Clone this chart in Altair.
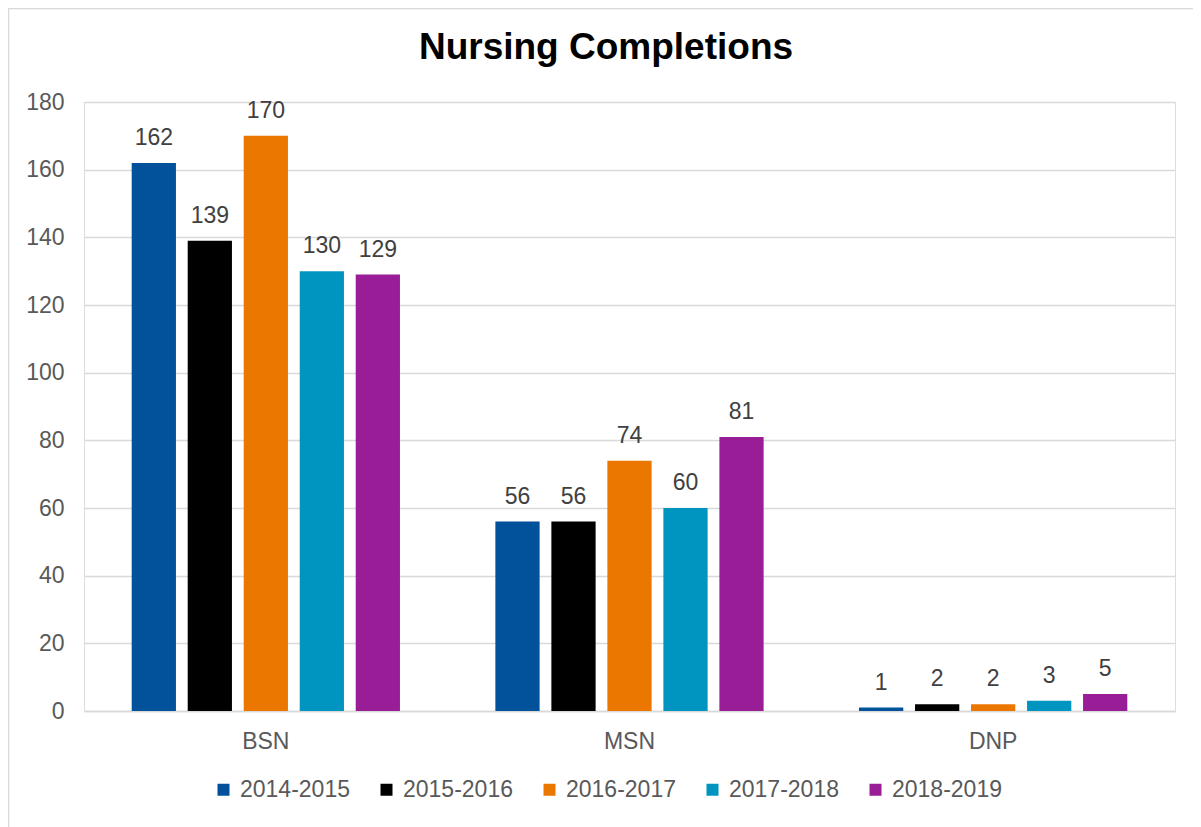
import altair as alt
import pandas as pd

programs = ["BSN", "MSN", "DNP"]
years = ["2014-2015", "2015-2016", "2016-2017", "2017-2018", "2018-2019"]
bsn = [162, 139, 170, 130, 129]
msn = [56, 56, 74, 60, 81]
dnp = [1, 2, 2, 3, 5]
colors = ["#01529a", "#000000", "#ec7700", "#0095c0", "#981d97"]
title_text = "Nursing Completions"

rows = []
for p, vals in zip(programs, [bsn, msn, dnp]):
    for yr, v in zip(years, vals):
        rows.append({"program": p, "year": yr, "value": v})
df = pd.DataFrame(rows)

FONT = "Liberation Sans"
W, H = 1091, 609

x_enc = alt.X(
    "program:N", sort=programs,
    scale=alt.Scale(paddingInner=0.23, paddingOuter=0.115),
    axis=alt.Axis(title=None, labelAngle=0, ticks=False, domainColor="#d9d9d9",
                  domainWidth=1.5, labelFontSize=23, labelColor="#595959",
                  labelPadding=19, labelFont=FONT, grid=False),
)
xo_enc = alt.XOffset("year:N", sort=years,
                     scale=alt.Scale(paddingInner=0.21, paddingOuter=0.105))
y_enc = alt.Y(
    "value:Q", scale=alt.Scale(domain=[0, 180], nice=False),
    axis=alt.Axis(title=None, values=list(range(0, 181, 20)), domain=False,
                  ticks=False, gridColor="#d9d9d9", gridWidth=1.5,
                  labelFontSize=23, labelColor="#595959", labelPadding=20,
                  labelFont=FONT),
)

base = alt.Chart(df).encode(x=x_enc, xOffset=xo_enc, y=y_enc)

bars = base.mark_bar().encode(
    color=alt.Color(
        "year:N", sort=years,
        scale=alt.Scale(domain=years, range=colors),
        legend=alt.Legend(
            title=None, orient="none", direction="horizontal",
            legendX=128, legendY=676, symbolType="square", symbolSize=144,
            symbolStrokeWidth=0, labelFontSize=23, labelColor="#595959",
            labelFont=FONT, labelOffset=5, columnPadding=25,
        ),
    )
)

labels = base.mark_text(
    baseline="alphabetic", dy=-18, fontSize=23, color="#404040", font=FONT
).encode(text="value:Q")

title_df = pd.DataFrame({"t": [title_text]})
title = alt.Chart(title_df).mark_text(
    font=FONT, fontSize=37, fontWeight="bold", color="#000000",
    baseline="middle", align="center"
).encode(text="t:N", x=alt.value(522), y=alt.value(-54))

border = alt.Chart(title_df).mark_rect(
    fill=None, stroke="#d9d9d9", strokeWidth=1.5
).encode(x=alt.value(-75.5), x2=alt.value(1300), y=alt.value(-93.5), y2=alt.value(900))

chart = alt.layer(border, bars, labels, title).properties(
    width=W, height=H,
    autosize=alt.AutoSizeParams(type="none"),
    padding={"left": 76, "top": 94, "right": 18, "bottom": 116},
).configure_view(stroke=None).configure(background="white")

chart.save("out.html", embed_options={"renderer": "svg", "actions": False})
